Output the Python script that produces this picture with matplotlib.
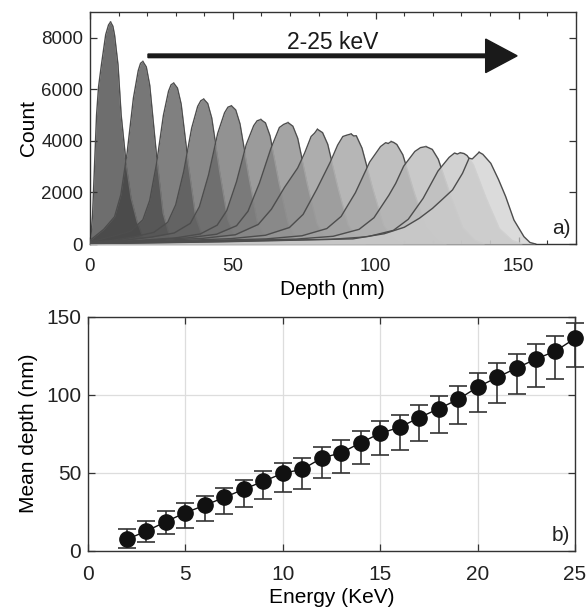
import matplotlib.pyplot as plt
import numpy as np
from matplotlib.ticker import MultipleLocator
from matplotlib.patches import Polygon

plt.rcParams['font.family'] = ['Liberation Sans', 'DejaVu Sans']

# ---- panel a) depth distributions, 2,4,...,24,25 keV ----
depth1 = [0, 0.2, 0.9, 1.6, 2.3, 3.0, 4.0, 5.5, 6.5, 7.2, 8.0, 8.6, 9.8, 10.9, 12.7, 14.4, 16.5, 19.1, 21.0]
count1 = [0, 90, 1130, 3070, 5010, 6100, 6950, 8120, 8500, 8610, 8450, 8100, 6950, 5010, 3070, 1780, 870, 90, 0]
depth2 = [0, 4.8, 8.6, 10.8, 13.0, 15.2, 16.9, 17.7, 18.5, 19.7, 20.9, 23.2, 25.6, 27.9, 29.8]
count2 = [140, 570, 1060, 1910, 3540, 5660, 6730, 7010, 7080, 6870, 6160, 3540, 1200, 280, 0]
depth3 = [0, 4, 8.3, 14.3, 18.5, 20.9, 23.3, 25.7, 27.5, 28.4, 29.3, 30.6, 31.9, 34.4, 37.0, 39.5, 41.5]
count3 = [90, 190, 310, 500, 940, 1690, 3120, 4990, 5930, 6180, 6240, 6050, 5430, 3120, 1060, 250, 0]
depth4 = [0, 7.6, 15.3, 22.3, 27.2, 30.0, 32.8, 35.6, 37.7, 38.8, 39.8, 41.2, 42.6, 45.4, 48.2, 51.0, 53.2]
count4 = [60, 140, 280, 450, 840, 1520, 2810, 4500, 5340, 5560, 5620, 5450, 4890, 2810, 960, 225, 0]
depth5 = [0, 10.8, 21.5, 29.5, 35.1, 38.3, 41.5, 44.7, 47.1, 48.3, 49.5, 51.0, 52.5, 55.5, 58.5, 61.5, 63.9]
count5 = [50, 130, 270, 430, 800, 1450, 2680, 4290, 5090, 5310, 5360, 5200, 4660, 2680, 910, 210, 0]
depth6 = [0, 15, 30.1, 38.6, 44.5, 47.9, 51.3, 54.7, 57.3, 58.5, 59.8, 60.6, 61.4, 63.0, 66.1, 69.3, 72.4, 74.9]
count6 = [40, 120, 240, 390, 730, 1300, 2420, 3860, 4590, 4780, 4830, 4760, 4700, 4200, 2420, 820, 190, 0]
depth7 = [0, 17, 34.3, 44.3, 51.3, 55.3, 59.3, 63.3, 66.3, 67.8, 69.3, 71.0, 72.7, 76.0, 79.4, 82.7, 85.4]
count7 = [30, 120, 240, 380, 710, 1270, 2360, 3700, 4520, 4640, 4710, 4570, 4100, 2360, 800, 190, 0]
depth8 = [0, 19.7, 39.4, 50.9, 58.9, 63.5, 68.1, 72.7, 75.1, 77.4, 78.6, 79.6, 81.4, 83.2, 86.7, 90.3, 93.8, 96.6]
count8 = [25, 110, 220, 360, 760, 1350, 2200, 2950, 3520, 4170, 4300, 4450, 4320, 3870, 2230, 760, 180, 0]
depth9 = [0, 24.7, 49.4, 61.4, 69.8, 74.6, 79.4, 84.2, 86.7, 88.5, 89.8, 91.4, 92.3, 93.2, 95.2, 99.0, 102.8, 106.6, 109.6]
count9 = [20, 105, 210, 340, 640, 1150, 2130, 3200, 3840, 4170, 4220, 4270, 4190, 4200, 3720, 2140, 730, 170, 0]
depth10 = [0, 30.8, 61.7, 74.2, 82.9, 87.9, 92.9, 97.9, 101.7, 103.5, 104.4, 105.4, 106.3, 107.4, 109.5, 113.5, 117.6, 121.6, 124.8]
count10 = [15, 100, 200, 320, 600, 1070, 1990, 3180, 3780, 3930, 3900, 3975, 3940, 3860, 3460, 1990, 680, 160, 0]
depth11 = [0, 36, 72.1, 85.1, 94.2, 99.4, 104.6, 107.0, 109.8, 113.7, 115.7, 117.6, 119.8, 121.9, 126.2, 130.5, 134.8, 138.2]
count11 = [12, 95, 190, 300, 570, 1020, 1890, 2350, 3020, 3590, 3740, 3780, 3670, 3290, 1890, 640, 150, 0]
depth12 = [0, 42, 84.1, 97.1, 106.2, 111.4, 116.6, 121.8, 125.7, 127.6, 128.6, 129.6, 130.9, 132.0, 134.2, 138.7, 143.3, 147.8, 151.4]
count12 = [10, 88, 180, 280, 530, 960, 1770, 2830, 3360, 3530, 3490, 3540, 3510, 3430, 3080, 1770, 600, 140, 0]
depth13 = [0, 46, 92, 103, 110, 115.3, 119.9, 123.5, 126.9, 130.4, 132.7, 133.8, 136.2, 137.5, 140.3, 143.0, 145.5, 148.4, 151.9, 154.0, 156.0]
count13 = [8, 85, 200, 400, 650, 1000, 1385, 1750, 2100, 2745, 3330, 3300, 3560, 3480, 3130, 2500, 1840, 930, 285, 60, 0]

depths = [depth1, depth2, depth3, depth4, depth5, depth6, depth7,
          depth8, depth9, depth10, depth11, depth12, depth13]
counts = [count1, count2, count3, count4, count5, count6, count7,
          count8, count9, count10, count11, count12, count13]

# ---- panel b) mean depth vs energy ----
energy = list(range(2, 26))
mean_depth = [7.3, 12.6, 18.6, 24.4, 29.1, 34.2, 39.4, 44.5, 49.6, 52.2, 59.4, 62.8,
              69.2, 75.3, 79.1, 85.3, 91.0, 97.0, 104.9, 111.1, 117.1, 122.9, 128.0, 136.1]
err_up = [6.4, 6.6, 7.0, 6.0, 6.2, 6.2, 6.1, 6.4, 6.4, 7.2, 7.3, 8.0,
          7.7, 7.6, 7.9, 8.1, 8.4, 8.8, 9.2, 9.2, 9.2, 9.8, 9.9, 10.1]
err_low = [5.8, 7.2, 7.9, 9.6, 9.9, 10.5, 11.2, 11.6, 12.2, 12.4, 13.0, 12.8,
           13.8, 14.0, 14.4, 15.2, 15.4, 15.6, 15.8, 16.4, 16.8, 17.8, 17.9, 18.5]

fs = 15
spine_col = '#333333'
edge_dark = '#4d4d4d'

fig = plt.figure(figsize=(5.87, 6.09), dpi=100)

# top panel
ax1 = fig.add_axes([0.1533, 0.5993, 0.8274, 0.381])
n = len(depths)
for i in range(n):
    d = np.array(depths[i])
    c = np.array(counts[i])
    g = 0.19 + (0.80 - 0.19) * i / (n - 1)
    ax1.fill_between(d, c, 0, color=str(g), alpha=0.7, lw=0, zorder=2 * i + 1)
    k = int(np.argmax(c))
    ax1.plot(d[:k + 1], c[:k + 1], color=edge_dark, lw=1.0, zorder=2 * i + 2)
    if i == n - 1:
        ax1.plot(d[k:], c[k:], color=edge_dark, lw=1.0, zorder=2 * i + 2)
    else:
        # falling side: light where hidden under the next curve, dark above it
        ax1.plot(d[k:], c[k:], color='#dadada', lw=0.9, zorder=2 * i + 2)
        dn, cn = depths[i + 1], counts[i + 1]
        verts = list(zip(dn, cn)) + [(200, 0), (200, 12000), (-10, 12000), (-10, cn[0])]
        top_part, = ax1.plot(d[k:], c[k:], color=edge_dark, lw=1.0, zorder=2 * i + 2)
        top_part.set_clip_path(Polygon(verts, closed=True, transform=ax1.transData))

ax1.arrow(20.3, 7300, 129.2, 0, width=140, head_width=1300, head_length=11,
          length_includes_head=True, color='#1a1a1a', zorder=60)
ax1.text(85, 7800, '2-25 keV', ha='center', va='center', fontsize=16.5, color='#1a1a1a', zorder=60)
ax1.text(0.99, 0.025, 'a)', transform=ax1.transAxes, ha='right', va='bottom', fontsize=fs, color='#222222')

ax1.set_xlim(0, 170)
ax1.set_ylim(0, 9000)
ax1.set_xticks([0, 50, 100, 150])
ax1.xaxis.set_minor_locator(MultipleLocator(10))
ax1.set_yticks([0, 2000, 4000, 6000, 8000])
ax1.set_xlabel('Depth (nm)', fontsize=fs, labelpad=4)
ax1.set_ylabel('Count', fontsize=fs, labelpad=2)

# bottom panel
ax2 = fig.add_axes([0.1499, 0.0957, 0.8296, 0.3842])
ax2.errorbar(energy, mean_depth, yerr=[err_low, err_up], fmt='o-', color='#111111',
             ms=11, lw=1.0, ecolor='#333333', elinewidth=1.2, capsize=6.5, capthick=1.2,
             clip_on=False, zorder=5)
ax2.grid(color='#dddddd', lw=0.9)
ax2.set_axisbelow(True)
ax2.text(0.99, 0.025, 'b)', transform=ax2.transAxes, ha='right', va='bottom', fontsize=fs, color='#222222')
ax2.set_xlim(0, 25)
ax2.set_ylim(0, 150)
ax2.set_xticks([0, 5, 10, 15, 20, 25])
ax2.set_yticks([0, 50, 100, 150])
ax2.set_xlabel('Energy (KeV)', fontsize=fs, labelpad=3)
ax2.set_ylabel('Mean depth (nm)', fontsize=fs, labelpad=6)

for ax, lsz in ((ax1, 13.5), (ax2, fs)):
    ax.tick_params(which='both', direction='in', top=True, right=True,
                   labelsize=lsz, colors=spine_col, labelcolor='#222222')
    ax.tick_params(which='major', length=5, width=0.9)
    ax.tick_params(which='minor', length=3, width=0.8)
    ax.tick_params(axis='x', which='both', pad=10)
    ax.tick_params(axis='y', which='both', pad=5)
    for s in ax.spines.values():
        s.set_color(spine_col)
        s.set_linewidth(1.0)

fig.savefig('out.png', dpi=100)
